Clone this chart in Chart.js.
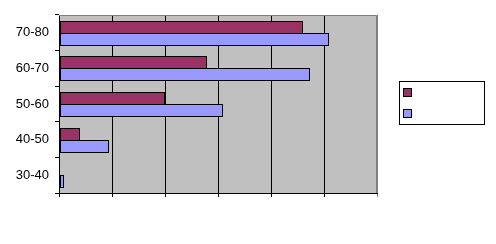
<!DOCTYPE html>
<html>
<head>
<meta charset="utf-8">
<script src="https://cdn.jsdelivr.net/npm/chart.js@4.4.1/dist/chart.umd.min.js"></script>
<style>
html,body{margin:0;padding:0;background:#fff;}
#wrap{width:496px;height:244px;position:relative;}
</style>
</head>
<body>
<div id="wrap"><canvas id="c" width="496" height="244"></canvas></div>
<script>
const categories = ['70-80', '60-70', '50-60', '40-50', '30-40'];
const seriesA = [46.1, 28.0, 20.0, 4.0, 0];
const seriesB = [50.9, 47.4, 31.0, 9.5, 1.0];
const seriesNames = ['', ''];
const xMax = 60;
const xStep = 10;

const snapPlugin = {
  id: 'snapBars',
  beforeDatasetsDraw(chart) {
    chart.data.datasets.forEach((ds, i) => {
      const meta = chart.getDatasetMeta(i);
      meta.data.forEach(el => {
        const h = Math.round(el.height);
        const top = Math.round(el.y - el.height / 2);
        el.height = h + 1;
        el.y = top + (h + 1) / 2;
        el.x = Math.round(el.x);
        el.base = Math.round(el.base);
      });
    });
  }
};

const bgPlugin = {
  id: 'plotBg',
  beforeDraw(chart) {
    const a = chart.chartArea, ctx = chart.ctx;
    ctx.save();
    ctx.fillStyle = '#C0C0C0';
    ctx.fillRect(a.left, a.top, a.right - a.left, a.bottom - a.top);
    ctx.restore();
  },
  afterDraw(chart) {
    const a = chart.chartArea, ctx = chart.ctx;
    ctx.save();
    ctx.strokeStyle = '#808080';
    ctx.lineWidth = 1;
    ctx.beginPath();
    ctx.moveTo(a.left, a.top + 0.5);
    ctx.lineTo(a.right - 0.5, a.top + 0.5);
    ctx.lineTo(a.right - 0.5, a.bottom);
    ctx.stroke();
    // legend box
    const lx = a.right + 22.5, ly = a.top + 66.5, lw = 85, lh = 43;
    ctx.strokeStyle = '#000';
    ctx.fillStyle = '#fff';
    ctx.fillRect(lx, ly, lw, lh);
    ctx.strokeRect(lx, ly, lw, lh);
    chart.data.datasets.forEach((ds, i) => {
      const sx = lx + 4, sy = ly + 7 + i * 21;
      ctx.fillStyle = ds.backgroundColor;
      ctx.fillRect(sx, sy, 8, 8);
      ctx.strokeRect(sx, sy, 8, 8);
      ctx.fillStyle = '#000';
      ctx.font = '13px "Liberation Sans", Arial, sans-serif';
      ctx.textBaseline = 'middle';
      ctx.fillText(ds.label, sx + 14, sy + 4);
    });
    ctx.restore();
  }
};

new Chart(document.getElementById('c'), {
  type: 'bar',
  data: {
    labels: categories,
    datasets: [
      { label: seriesNames[0], data: seriesA, backgroundColor: '#993366', borderColor: '#000', borderWidth: 1, borderSkipped: false },
      { label: seriesNames[1], data: seriesB, backgroundColor: '#9999FF', borderColor: '#000', borderWidth: 1, borderSkipped: false }
    ]
  },
  options: {
    indexAxis: 'y',
    responsive: false,
    animation: false,
    devicePixelRatio: 1,
    layout: { padding: { top: 15, right: 119, left: 0, bottom: 0 } },
    datasets: { bar: { categoryPercentage: 0.674, barPercentage: 1 } },
    plugins: { legend: { display: false }, tooltip: { enabled: false } },
    scales: {
      x: {
        type: 'linear', min: 0, max: xMax,
        ticks: { stepSize: xStep, display: false },
        grid: {
          color: (c) => (c.tick && c.tick.value === xMax) ? '#808080' : '#000',
          lineWidth: 1, tickLength: 4, drawTicks: true
        },
        border: { color: '#000', width: 1 },
        afterFit(s) { s.height = 51; }
      },
      y: {
        type: 'category', offset: true,
        grid: { offset: true, drawOnChartArea: false, color: '#000', tickLength: 4 },
        border: { color: '#000', width: 1 },
        ticks: { color: '#000', padding: 6, font: { family: '"Liberation Sans", Arial, sans-serif', size: 13 } },
        afterFit(s) { s.width = 59; }
      }
    }
  },
  plugins: [snapPlugin, bgPlugin]
});
</script>
</body>
</html>
